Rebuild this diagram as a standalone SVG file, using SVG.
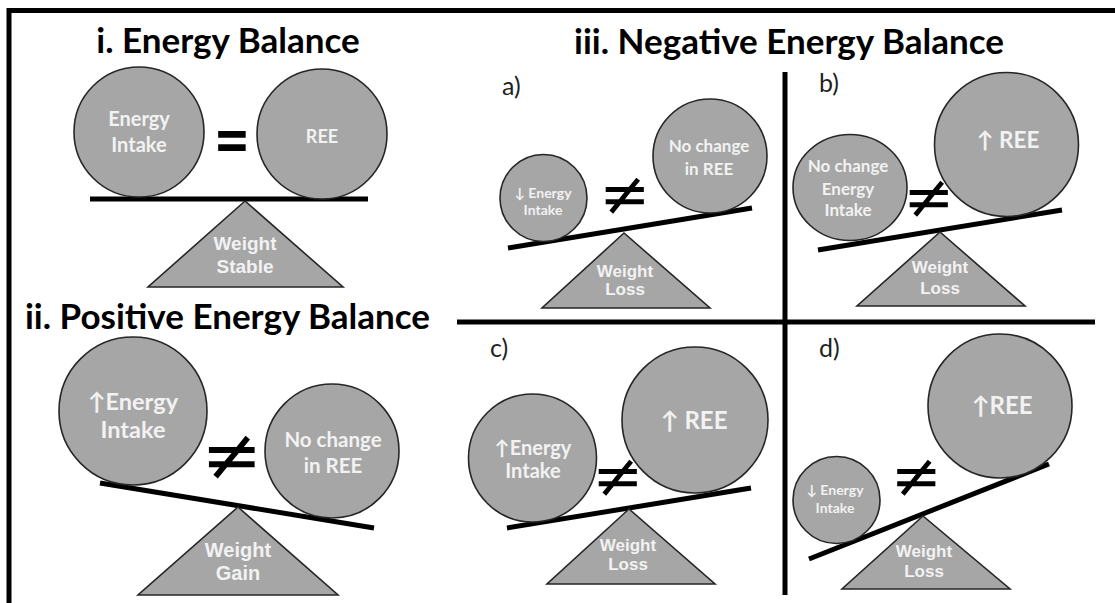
<svg xmlns="http://www.w3.org/2000/svg" width="1115" height="603" viewBox="0 0 1115 603">
<style>
.ball{fill:#a6a6a6;stroke:#262626;stroke-width:1.6}
.tri{fill:#a6a6a6;stroke:#262626;stroke-width:1.6}
.beam{stroke:#000;stroke-width:5;fill:none}
.frame{stroke:#000;stroke-width:5;fill:none}
.title{font-family:Lato,"Liberation Sans",sans-serif;font-weight:bold;fill:#000;text-anchor:middle}
.lbl{font-family:Lato,"Liberation Sans",sans-serif;font-size:25px;fill:#1f1f1f}
.ct{font-family:Lato,"Liberation Sans","DejaVu Sans",sans-serif;font-weight:bold;fill:#f2f2f2;text-anchor:middle}
.tt{font-family:"Liberation Sans",Arial,sans-serif;font-weight:bold;fill:#f2f2f2;text-anchor:middle}
.op{font-family:"DejaVu Sans",sans-serif;fill:#000;text-anchor:middle}
</style>
<g id="frame">
<line class="frame" x1="7" y1="10.5" x2="1115" y2="10.5"/>
<line class="frame" x1="9" y1="8" x2="9" y2="603"/>
<line class="frame" x1="785" y1="72" x2="785" y2="595"/>
<line class="frame" x1="457" y1="322" x2="1095" y2="322"/>
</g>
<g id="titles">
<text class="title" x="228" y="53" font-size="35">i. Energy Balance</text>
<text class="title" x="227.5" y="329" font-size="35">ii. Positive Energy Balance</text>
<text class="title" x="789" y="54" font-size="35">iii. Negative Energy Balance</text>
<text class="lbl" x="502" y="95">a)</text>
<text class="lbl" x="819" y="92">b)</text>
<text class="lbl" x="490" y="357">c)</text>
<text class="lbl" x="819" y="357">d)</text>
</g>
<g id="connectors">
<line class="beam" x1="90" y1="199" x2="368" y2="199"/>
<line class="beam" x1="100" y1="483" x2="374" y2="528"/>
<line class="beam" x1="508" y1="248" x2="752" y2="208"/>
<line class="beam" x1="818" y1="250" x2="1062" y2="210"/>
<line class="beam" x1="507" y1="528" x2="751" y2="488"/>
<line class="beam" x1="809" y1="559" x2="1049" y2="464"/>
</g>
<g id="panel-i">
<circle class="ball" cx="139" cy="132" r="65"/>
<text class="ct" font-size="20"><tspan x="139" y="126">Energy</tspan><tspan x="139" y="152">Intake</tspan></text>
<circle class="ball" cx="322" cy="134" r="65"/>
<text class="ct" font-size="18" x="322" y="143">REE</text>
<text class="op" font-weight="bold" font-size="44" transform="translate(232,159.4) scale(1,1.35)">=</text>
<polygon class="tri" points="245,201 148,287 343,287"/>
<text class="tt" font-size="19"><tspan x="245" y="250">Weight</tspan><tspan x="245" y="273">Stable</tspan></text>
</g>
<g id="panel-ii">
<circle class="ball" cx="133" cy="411" r="74"/>
<text class="ct" font-size="23.5"><tspan x="133" y="410">↑Energy</tspan><tspan x="133" y="438">Intake</tspan></text>
<circle class="ball" cx="332" cy="451" r="67"/>
<text class="ct" font-size="20.5"><tspan x="333" y="447">No change</tspan><tspan x="333" y="473">in REE</tspan></text>
<text class="op" font-size="73" x="231.5" y="480">≠</text>
<polygon class="tri" points="238,507 138,595 338,595"/>
<text class="tt" font-size="20"><tspan x="238" y="557">Weight</tspan><tspan x="238" y="580">Gain</tspan></text>
</g>
<g id="panel-a">
<circle class="ball" cx="543.5" cy="198" r="43.5"/>
<text class="ct" font-size="14"><tspan x="543" y="198">↓ Energy</tspan><tspan x="543" y="215">Intake</tspan></text>
<circle class="ball" cx="710" cy="156" r="57"/>
<text class="ct" font-size="17"><tspan x="709" y="152">No change</tspan><tspan x="709" y="175">in REE</tspan></text>
<text class="op" font-size="61" x="624.5" y="215">≠</text>
<polygon class="tri" points="624,233 542,308 710,308"/>
<text class="tt" font-size="17"><tspan x="625" y="277">Weight</tspan><tspan x="625" y="295">Loss</tspan></text>
</g>
<g id="panel-b">
<ellipse class="ball" cx="850" cy="187.5" rx="57" ry="53"/>
<text class="ct" font-size="17"><tspan x="848" y="172">No change</tspan><tspan x="848" y="195">Energy</tspan><tspan x="848" y="216">Intake</tspan></text>
<circle class="ball" cx="1006.5" cy="144.5" r="72"/>
<text class="ct" font-size="22.5" x="1008" y="148">↑ REE</text>
<text class="op" font-size="61" x="928.5" y="218">≠</text>
<polygon class="tri" points="940,232 857,306 1025,306"/>
<text class="tt" font-size="17"><tspan x="940" y="273">Weight</tspan><tspan x="940" y="294">Loss</tspan></text>
</g>
<g id="panel-c">
<circle class="ball" cx="532.5" cy="458" r="64"/>
<text class="ct" font-size="20"><tspan x="533" y="455">↑Energy</tspan><tspan x="533" y="478">Intake</tspan></text>
<circle class="ball" cx="695" cy="420" r="73"/>
<text class="ct" font-size="24" x="694" y="429">↑ REE</text>
<text class="op" font-size="61" x="617.5" y="497">≠</text>
<polygon class="tri" points="629,509 547,584 715,584"/>
<text class="tt" font-size="17"><tspan x="628" y="551">Weight</tspan><tspan x="628" y="570">Loss</tspan></text>
</g>
<g id="panel-d">
<circle class="ball" cx="836.5" cy="500" r="43.5"/>
<text class="ct" font-size="14"><tspan x="835" y="495">↓ Energy</tspan><tspan x="835" y="513">Intake</tspan></text>
<circle class="ball" cx="1000" cy="406" r="72"/>
<text class="ct" font-size="24" x="1002" y="414">↑REE</text>
<text class="op" font-size="61" x="916" y="497">≠</text>
<polygon class="tri" points="923,516 842,589 1010,589"/>
<text class="tt" font-size="17"><tspan x="924" y="557">Weight</tspan><tspan x="924" y="577">Loss</tspan></text>
</g>
</svg>
